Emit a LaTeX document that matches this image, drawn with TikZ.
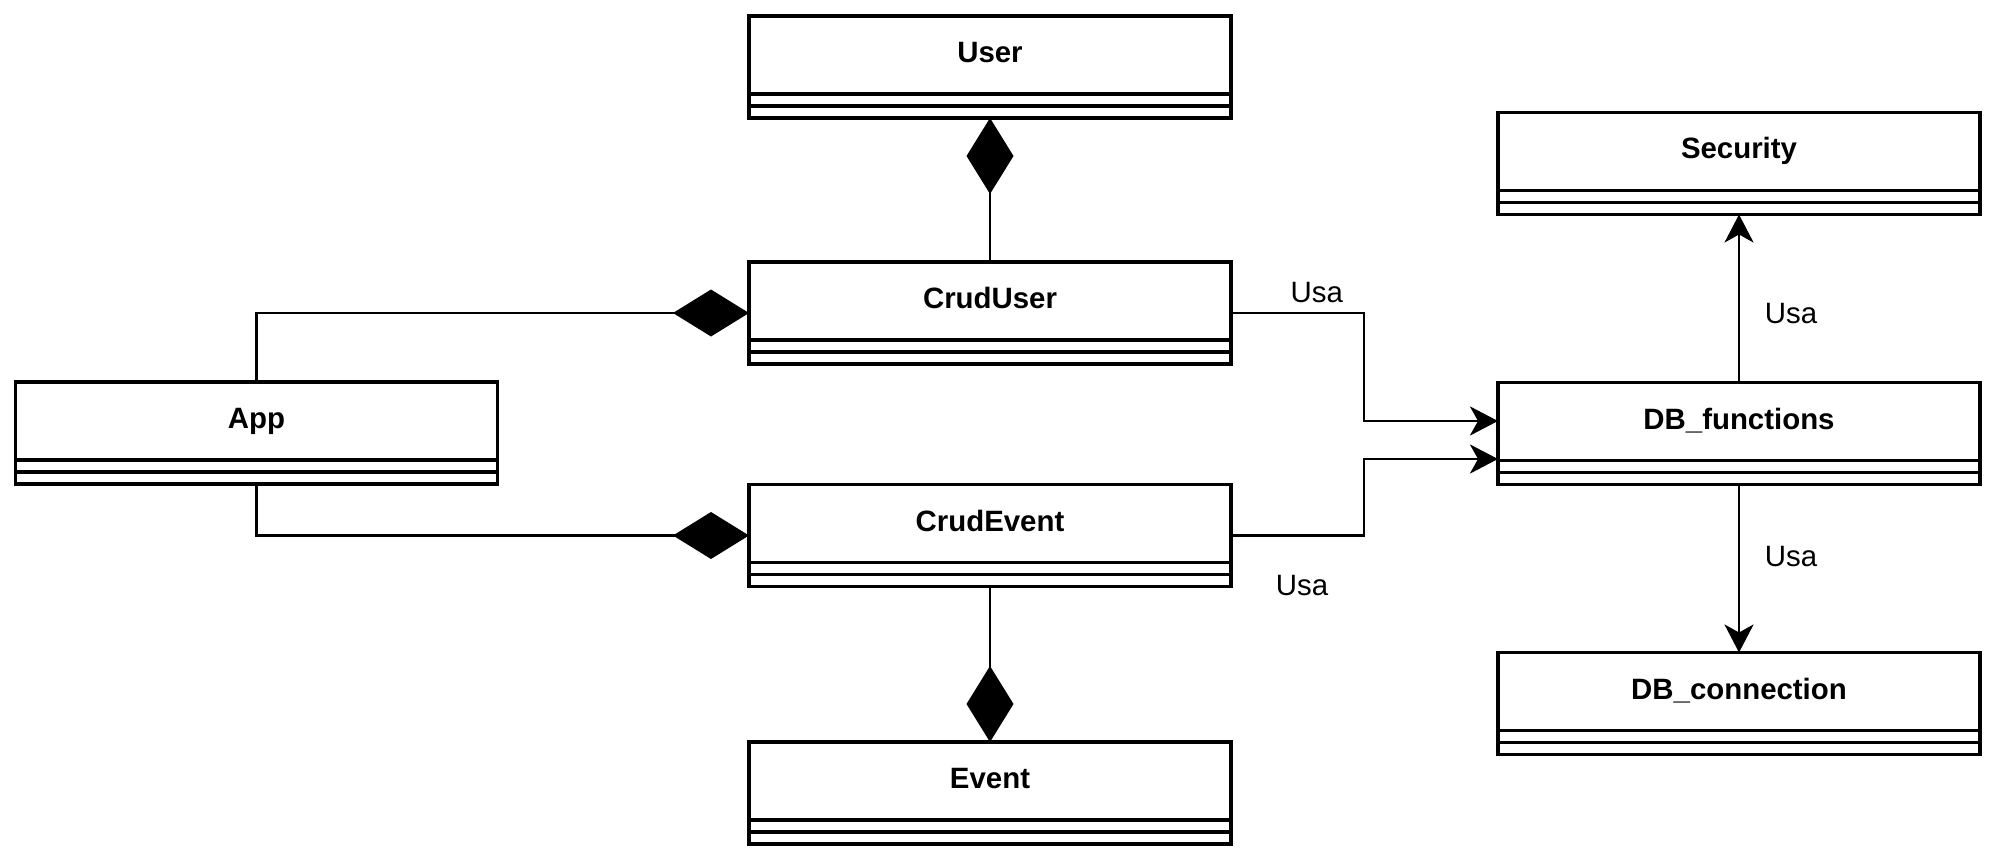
\documentclass[tikz,border=0pt]{standalone}
\usepackage{fontspec}
\setmainfont{Liberation Sans}
\usetikzlibrary{arrows.meta,calc}
\newcommand\umlclass[4]{%
  \node[cls] (#1) at (#2,#3) {};
  \draw[sep] ([yshift=-39pt]#1.north west) -- ([yshift=-39pt]#1.north east);
  \draw[sep] ([yshift=-45pt]#1.north west) -- ([yshift=-45pt]#1.north east);
  \node[title] (#1-t) at ([yshift=-23.25pt]#1.north) {#4};
}
\begin{document}
\begin{tikzpicture}[x=0.5pt,y=-0.5pt,
  cls/.style={draw, line width=1.6pt, minimum width=241pt, minimum height=51pt, inner sep=0pt, outer sep=0pt, anchor=north west},
  sep/.style={line width=1.6pt},
  title/.style={font=\fontsize{14.7}{17}\selectfont\bfseries, anchor=base, inner sep=0pt},
  lbl/.style={font=\fontsize{14.7}{17}\selectfont, anchor=base, inner sep=0pt},
  comp/.style={line width=1.3pt, -{Diamond[length=38pt,width=23.5pt,fill=black]}},
  uses/.style={line width=1.4pt, -{Stealth[length=14pt,width=14.5pt,inset=4pt]}},
]
\useasboundingbox (0,0) rectangle (1995,861);

\umlclass{User}{749}{16}{User}
\umlclass{CrudUser}{749}{262}{CrudUser}
\umlclass{App}{15.5}{382}{App}
\umlclass{CrudEvent}{749}{484.5}{CrudEvent}
\umlclass{Event}{749}{742}{Event}
\umlclass{Security}{1498}{112.5}{Security}
\umlclass{DBf}{1498}{382.5}{DB\_functions}
\umlclass{DBc}{1498}{652.5}{DB\_connection}

% compositions
\draw[comp] (CrudUser.north) -- (User.south);
\draw[comp] (App.north) |- (CrudUser.west);
\draw[comp] (App.south) |- (CrudEvent.west);
\draw[comp] (CrudEvent.south) -- (Event.north);

% usages
\draw[uses] (CrudUser.east) -- ++(133,0) |- ([yshift=6.25pt]DBf.west);
\draw[uses] (CrudEvent.east) -- ++(133,0) |- ([yshift=-12.75pt]DBf.west);
\draw[uses] (DBf.north) -- (Security.south);
\draw[uses] (DBf.south) -- (DBc.north);

\node[lbl] (u1) at (1316.7,302.3) {Usa};
\node[lbl] (u2) at (1302,595) {Usa};
\node[lbl] (u3) at (1791,323) {Usa};
\node[lbl] (u4) at (1791,566) {Usa};
\end{tikzpicture}
\end{document}
